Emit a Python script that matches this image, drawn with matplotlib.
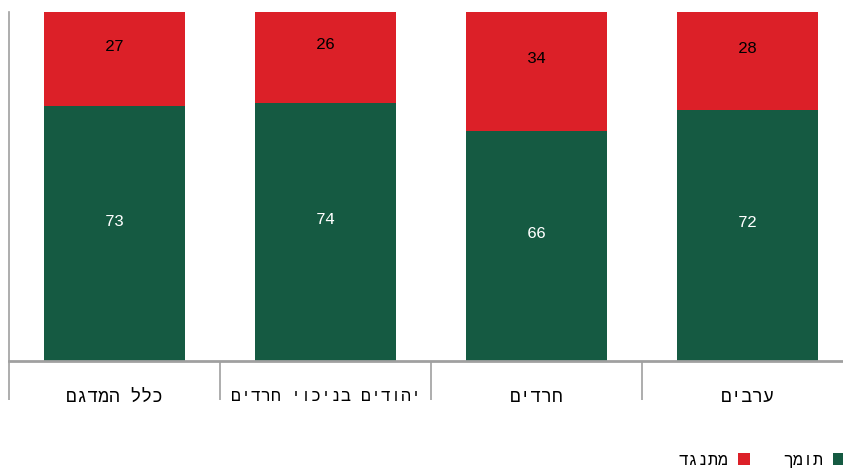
import matplotlib.pyplot as plt
import numpy as np

# data (Hebrew written in logical order, reversed for display since matplotlib has no bidi)
categories = ["כלל המדגם", "יהודים בניכוי חרדים", "חרדים", "ערבים"]
support = [73, 74, 66, 72]
oppose = [27, 26, 34, 28]
series_names = ["תומך", "מתנגד"]

green = "#155A42"
red = "#DC2028"
gray = "#A0A0A0"


def rtl(s):
    return s[::-1]


plt.rcParams['font.family'] = ['Liberation Mono', 'DejaVu Sans']

fig = plt.figure(figsize=(8.43, 4.68), dpi=100)
ax = fig.add_axes([9 / 843, 1 - 361 / 468, 844 / 843, 349 / 468])

x = np.arange(len(categories))
w = 0.668
b1 = ax.bar(x, support, w, color=green, label=rtl(series_names[0]))
b2 = ax.bar(x, oppose, w, bottom=support, color=red, label=rtl(series_names[1]))

for xi, s, o in zip(x, support, oppose):
    ax.annotate(str(s), (xi, s / 2), xytext=(0, 9), textcoords="offset points",
                ha="center", va="center", color="white", fontsize=12)
    ax.annotate(str(o), (xi, s + o / 2), xytext=(0, 9), textcoords="offset points",
                ha="center", va="center", color="black", fontsize=12)

ax.set_xlim(-0.5, len(categories) - 0.5)
ax.set_ylim(0, 100)
ax.set_yticks([])
for side in ["top", "right"]:
    ax.spines[side].set_visible(False)
ax.spines["left"].set_color(gray)
ax.spines["left"].set_linewidth(1.2)
ax.spines["bottom"].set_color(gray)
ax.spines["bottom"].set_linewidth(2)

ax.set_xticks(x)
labels = ax.set_xticklabels([rtl(c) for c in categories], fontsize=13)
labels[1].set_fontsize(12)
ax.tick_params(axis="x", which="major", length=0, pad=20)
ax.set_xticks(np.arange(-0.5, len(categories)), minor=True)
ax.tick_params(axis="x", which="minor", length=28, width=1.2, color=gray)

fig.legend(handles=[b2, b1], loc="lower right", bbox_to_anchor=(1.02, -0.032),
           ncol=2, frameon=False, markerfirst=False, fontsize=12,
           handlelength=0.7, handleheight=0.7, handletextpad=0.6, columnspacing=2.0)

fig.savefig("out.png", dpi=100)
